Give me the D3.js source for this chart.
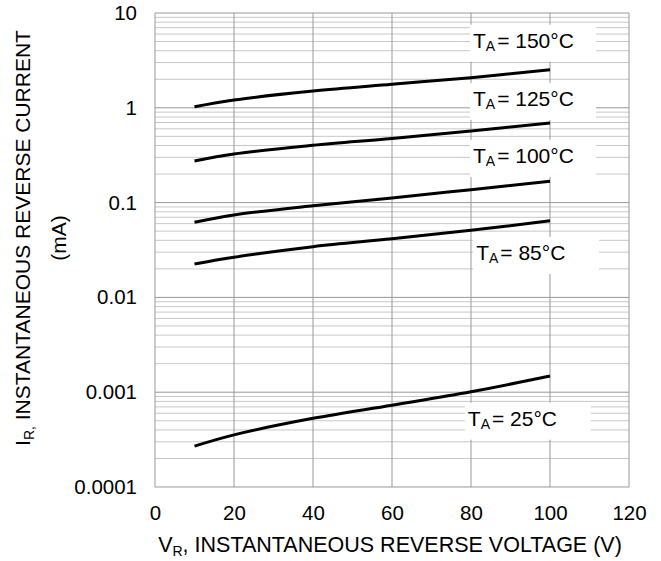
<!DOCTYPE html>
<html lang="en">
<head>
<meta charset="UTF-8">
<title>Reverse current vs reverse voltage</title>
<script src="https://cdn.jsdelivr.net/npm/d3@7"></script>
<style>
	body { margin: 0; background: #fff; }
	text { font-family: Arial, "Liberation Sans", sans-serif; fill: #000; }
</style>
</head>
<body>
<div id="vis"></div>
<script>
	var width = 661;
	var height = 561;

	// reverse voltage (V) where each curve was read
	var voltage = [10, 20, 40, 60, 80, 100];

	// reverse current (mA) per temperature
	var i150 = [1.027, 1.21, 1.50, 1.77, 2.08, 2.52];
	var i125 = [0.275, 0.326, 0.402, 0.475, 0.57, 0.69];
	var i100 = [0.062, 0.074, 0.0927, 0.112, 0.137, 0.168];
	var i85 = [0.0225, 0.0265, 0.0343, 0.0415, 0.051, 0.0644];
	var i25 = [0.00027, 0.000355, 0.00053, 0.00073, 0.00101, 0.00148];

	var temps = ["150", "125", "100", "85", "25"];
	// where each label sits, in data units (V, mA)
	var labelX = [80.5, 80.5, 80.5, 81.3, 79.2];
	var labelY = [4.3, 1.045, 0.262, 0.0248, 0.000443];

	var xTicks = [0, 20, 40, 60, 80, 100, 120];
	var yTicks = [0.0001, 0.001, 0.01, 0.1, 1, 10];
	var yTickLabels = ["0.0001", "0.001", "0.01", "0.1", "1", "10"];

	var series = [i150, i125, i100, i85, i25];

	var svg = d3.select("#vis").append("svg")
		.attr("width", width)
		.attr("height", height);

	var x = d3.scaleLinear().domain([0, 120]).range([155, 629]);
	var y = d3.scaleLog().domain([0.0001, 10]).range([487, 13]);

	// minor gridlines, 2..9 in every decade
	var minor = [];
	yTicks.slice(0, -1).forEach(function(d) {
		for (var k = 2; k <= 9; k++) minor.push(d * k);
	});
	svg.append("g").selectAll("line").data(minor).join("line")
		.attr("x1", x(0)).attr("x2", x(120))
		.attr("y1", function(d) { return y(d); })
		.attr("y2", function(d) { return y(d); })
		.attr("stroke", "#c8c8c8")
		.attr("stroke-width", 1);

	svg.append("g").selectAll("line").data(yTicks).join("line")
		.attr("x1", x(0)).attr("x2", x(120))
		.attr("y1", function(d) { return y(d); })
		.attr("y2", function(d) { return y(d); })
		.attr("stroke", "#999")
		.attr("stroke-width", 1);

	svg.append("g").selectAll("line").data(xTicks).join("line")
		.attr("x1", function(d) { return x(d); })
		.attr("x2", function(d) { return x(d); })
		.attr("y1", y(10)).attr("y2", y(0.0001))
		.attr("stroke", "#999")
		.attr("stroke-width", 1);

	// axes: only the tick labels are shown
	var xAxis = svg.append("g")
		.attr("transform", "translate(0," + (y(0.0001) + 14) + ")")
		.call(d3.axisBottom(x).tickValues(xTicks).tickSize(0).tickPadding(4));
	xAxis.select(".domain").remove();
	xAxis.selectAll("text").style("font-size", "20.5px").attr("font-family", null);

	var yAxis = svg.append("g")
		.attr("transform", "translate(" + (x(0) - 16) + ",0)")
		.call(d3.axisLeft(y).tickValues(yTicks).tickSize(0).tickPadding(2)
			.tickFormat(function(d, i) { return yTickLabels[i]; }));
	yAxis.select(".domain").remove();
	yAxis.selectAll("text").style("font-size", "20.5px").attr("font-family", null);

	// white boxes behind the temperature labels
	var labels = svg.append("g");
	temps.forEach(function(t, i) {
		var lx = x(labelX[i]);
		var ly = y(labelY[i]);
		labels.append("rect")
			.attr("x", lx - 3)
			.attr("y", ly - 23)
			.attr("width", 126)
			.attr("height", 37)
			.attr("fill", "#fff");
		var txt = labels.append("text")
			.attr("x", lx)
			.attr("y", ly)
			.style("font-size", "21px");
		txt.append("tspan").text("T");
		txt.append("tspan").attr("dy", 3).style("font-size", "14px").text("A");
		txt.append("tspan").attr("dy", -3).attr("dx", 2).text("= " + t + "°C");
	});

	var line = d3.line()
		.x(function(d) { return x(d[0]); })
		.y(function(d) { return y(d[1]); })
		.curve(d3.curveCatmullRom.alpha(0.5));

	svg.append("g").selectAll("path").data(series).join("path")
		.attr("d", function(s) { return line(voltage.map(function(v, i) { return [v, s[i]]; })); })
		.attr("fill", "none")
		.attr("stroke", "#000")
		.attr("stroke-width", 3);

	// axis titles
	var xt = svg.append("text")
		.attr("x", 390)
		.attr("y", 552)
		.attr("text-anchor", "middle")
		.style("font-size", "21.5px");
	xt.append("tspan").text("V");
	xt.append("tspan").attr("dy", 4).style("font-size", "14px").text("R");
	xt.append("tspan").attr("dy", -4).text(", INSTANTANEOUS REVERSE VOLTAGE (V)");

	var yt = svg.append("text")
		.attr("transform", "translate(30,238) rotate(-90)")
		.attr("text-anchor", "middle")
		.style("font-size", "21px");
	yt.append("tspan").text("I");
	yt.append("tspan").attr("dy", 4).style("font-size", "14px").text("R,");
	yt.append("tspan").attr("dy", -4).text(" INSTANTANEOUS REVERSE CURRENT");

	svg.append("text")
		.attr("transform", "translate(66,238) rotate(-90)")
		.attr("text-anchor", "middle")
		.style("font-size", "21px")
		.text("(mA)");
</script>
</body>
</html>
